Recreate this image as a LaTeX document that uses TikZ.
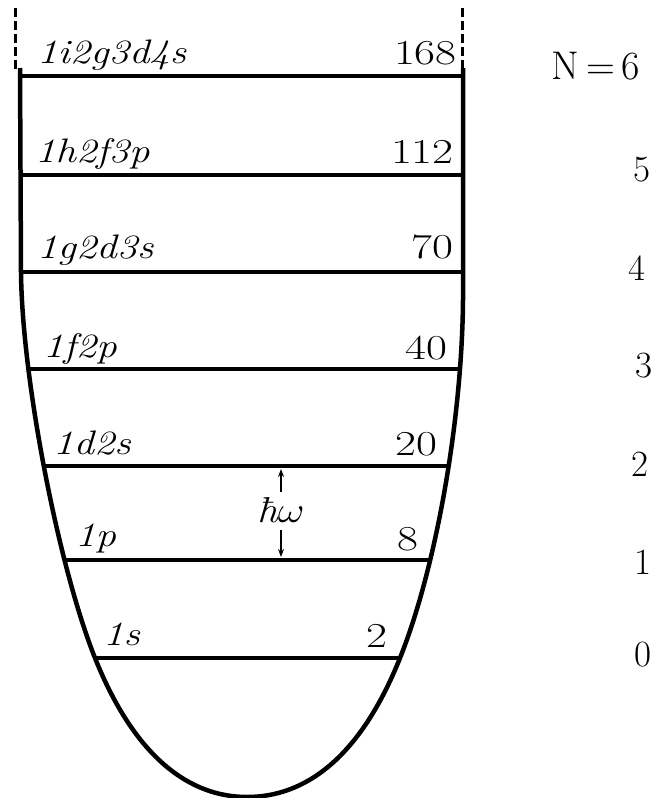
\RequirePackage{fix-cm}
\documentclass[tikz,border=0pt]{standalone}
\usetikzlibrary{arrows.meta}
\begin{document}
\begin{tikzpicture}[x=1pt,y=-1pt,
  wall/.style={line width=4.5pt, line join=round},
  lvl/.style={line width=3.5pt},
  dashwall/.style={line width=3pt, dash pattern=on 9pt off 4pt},
  shell/.style={anchor=base west, inner sep=0pt, font=\fontsize{34}{40}\selectfont\itshape, xscale=1.2},
  magic/.style={anchor=base east, inner sep=0pt, font=\fontsize{35}{42}\selectfont, xscale=1.3},
  nq/.style={anchor=center, inner sep=0pt, font=\fontsize{37}{44}\selectfont},
  arr/.style={line width=1.6pt, -{Stealth[length=8pt,width=6pt]}}]
\useasboundingbox (0,0) rectangle (655,798);

% dashed continuations of the well
\coordinate (dlt) at (15,8);  \coordinate (dlb) at (15,70);
\coordinate (drt) at (462,8); \coordinate (drb) at (462,70);
\draw[dashwall] (dlt) -- (dlb);
\draw[dashwall] (drt) -- (drb);

% well walls
\draw[wall] (20,68) -- (21,272)
  .. controls (22,380) and (59,568) .. (95,658)
  .. controls (135,758) and (190,797) .. (247,797)
  .. controls (305,797) and (360,758) .. (400,658)
  .. controls (436,568) and (462,420) .. (463,300)
  -- (463,68);

% levels
\coordinate (l6a) at (20,76);  \coordinate (l6b) at (463,76);
\coordinate (l5a) at (20,175); \coordinate (l5b) at (463,175);
\coordinate (l4a) at (21,272); \coordinate (l4b) at (463,272);
\coordinate (l3a) at (28,369); \coordinate (l3b) at (460,369);
\coordinate (l2a) at (44,466); \coordinate (l2b) at (449,466);
\coordinate (l1a) at (64,560); \coordinate (l1b) at (431,560);
\coordinate (l0a) at (95,658); \coordinate (l0b) at (400,658);
\foreach \i in {0,...,6} {\draw[lvl] (l\i a) -- (l\i b);}

% shell labels
\node[shell] (s6) at (37,63)  {1i2g3d4s};
\node[shell] (s5) at (35,162) {1h2f3p};
\node[shell] (s4) at (37,258) {1g2d3s};
\node[shell] (s3) at (43,357) {1f2p};
\node[shell] (s2) at (53,454) {1d2s};
\node[shell] (s1) at (75,546) {1p};
\node[shell] (s0) at (103,645) {1s};

% magic numbers
\node[magic] (m6) at (457,64)  {168};
\node[magic] (m5) at (454,163) {112};
\node[magic] (m4) at (454,258) {70};
\node[magic] (m3) at (448,359) {40};
\node[magic] (m2) at (438,455) {20};
\node[magic] (m1) at (419,550) {8};
\node[magic] (m0) at (388,647) {2};

% oscillator quantum numbers
\node[nq, font=\fontsize{40}{46}\selectfont] (n6) at (596,66) {N\,=\,6};
\node[nq] (n5) at (642,170) {5};
\node[nq] (n4) at (637,268) {4};
\node[nq] (n3) at (644,366) {3};
\node[nq] (n2) at (640,464) {2};
\node[nq] (n1) at (643,562) {1};
\node[nq] (n0) at (643,655) {0};

% hbar omega spacing
\node[inner sep=1pt, font=\fontsize{36}{40}\selectfont, xscale=1.15] (hw) at (281,510) {\itshape ħ$\omega$};
\coordinate (hwt) at (281,469);
\coordinate (hwb) at (281,557);
\draw[arr, shorten <=4pt] (hw.north) -- (hwt);
\draw[arr, shorten <=6pt] (hw.south) -- (hwb);
\end{tikzpicture}
\end{document}
